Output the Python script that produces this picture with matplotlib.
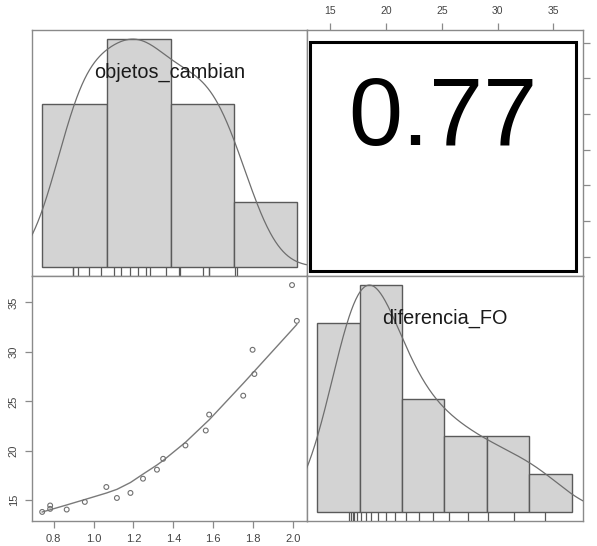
import numpy as np
import matplotlib
matplotlib.use("Agg")
import matplotlib.pyplot as plt
from matplotlib.patches import Rectangle

plt.rcParams['font.family'] = ['Liberation Sans', 'DejaVu Sans']

# ---------------- data ----------------
var_names = ["objetos_cambian", "diferencia_FO"]
corr_value = 0.77

# scatter (objetos_cambian vs diferencia_FO)
obj_x = [0.742, 0.782, 0.782, 0.865, 0.956, 1.064, 1.117, 1.185, 1.248, 1.318,
         1.349, 1.461, 1.563, 1.580, 1.751, 1.798, 1.807, 1.996, 2.020]
dif_y = [13.82, 14.13, 14.47, 14.06, 14.83, 16.34, 15.23, 15.74, 17.18, 18.09,
         19.19, 20.54, 22.05, 23.66, 25.57, 30.21, 27.76, 36.75, 33.13]

# diagonal histogram 1 (objetos_cambian)
hist1_edges = [0.743, 1.065, 1.387, 1.704, 2.021]
hist1_counts = [5, 7, 5, 2]
rug1 = [0.896, 0.896, 0.921, 0.976, 1.035, 1.102, 1.136, 1.181, 1.223, 1.265,
        1.285, 1.361, 1.428, 1.433, 1.547, 1.580, 1.580, 1.710, 1.721]

# diagonal histogram 2 (diferencia_FO)
hist2_edges = [13.80, 17.64, 21.42, 25.24, 29.05, 32.86, 36.68]
hist2_counts = [5, 6, 3, 2, 2, 1]
rug2 = [16.71, 16.86, 17.01, 17.16, 17.37, 17.76, 18.22, 18.67, 19.26, 20.02,
        20.83, 21.82, 22.93, 24.22, 25.66, 27.31, 29.17, 31.49, 34.22]

x_ticks = [0.8, 1.0, 1.2, 1.4, 1.6, 1.8, 2.0]
y_ticks = [15, 20, 25, 30, 35]


# ---------------- helpers ----------------
def usr(v):
    v = np.asarray(v, float)
    lo, hi = v.min(), v.max()
    r = hi - lo
    return lo - 0.04 * r, hi + 0.04 * r


def bw_nrd0(x):
    x = np.asarray(x, float)
    hi = np.std(x, ddof=1)
    q75, q25 = np.percentile(x, [75, 25])
    lo = min(hi, (q75 - q25) / 1.34)
    return 0.9 * lo * len(x) ** -0.2


def density(x, n=512):
    x = np.asarray(x, float)
    bw = bw_nrd0(x)
    g = np.linspace(x.min() - 3 * bw, x.max() + 3 * bw, n)
    d = np.exp(-0.5 * ((g[:, None] - x[None, :]) / bw) ** 2).sum(axis=1)
    return g, d / d.max()


def lowess(x, y, f=2 / 3, iters=3):
    x = np.asarray(x, float)
    y = np.asarray(y, float)
    o = np.argsort(x, kind='stable')
    x, y = x[o], y[o]
    n = len(x)
    ns = max(2, min(n, int(f * n + 1e-7)))
    rw = np.ones(n)
    ys = np.zeros(n)
    rng = x[-1] - x[0]
    for it in range(iters + 1):
        nleft, nright = 0, ns - 1
        for i in range(n):
            xs = x[i]
            while nright < n - 1 and xs - x[nleft] > x[nright + 1] - xs:
                nleft += 1
                nright += 1
            h = max(xs - x[nleft], x[nright] - xs)
            h9, h1 = 0.999 * h, 0.001 * h
            w = np.zeros(n)
            for j in range(nleft, n):
                rj = abs(x[j] - xs)
                if rj <= h9:
                    w[j] = (1.0 if rj <= h1 else (1 - (rj / h) ** 3) ** 3) * rw[j]
                elif x[j] > xs:
                    break
            sw = w.sum()
            if sw <= 0:
                ys[i] = y[i]
                continue
            w = w / sw
            if h > 0:
                a = np.sum(w * x)
                b = xs - a
                c = np.sum(w * (x - a) ** 2)
                if np.sqrt(c) > 0.001 * rng:
                    b /= c
                    w = w * (b * (x - a) + 1)
            ys[i] = np.sum(w * y)
        if it == iters:
            break
        res = np.abs(y - ys)
        cmad = 6 * np.median(res)
        if cmad < 1e-7 * np.mean(np.abs(y)):
            break
        rw = np.where(res <= 0.001 * cmad, 1.0,
                      np.where(res <= 0.999 * cmad, (1 - (res / cmad) ** 2) ** 2, 0.0))
    return x, ys


# ---------------- layout ----------------
W, H = 597, 546
fig = plt.figure(figsize=(W / 100, H / 100), dpi=100)


def box(x0, y0, x1, y1):
    return [x0 / W, 1 - y1 / H, (x1 - x0) / W, (y1 - y0) / H]


ax_tl = fig.add_axes(box(32, 30, 307, 276))
ax_tr = fig.add_axes(box(307, 30, 583, 276))
ax_bl = fig.add_axes(box(32, 276, 307, 521))
ax_br = fig.add_axes(box(307, 276, 583, 521))

frame_col = '#8a8a8a'
bar_fill = '#d3d3d3'
bar_edge = '#5a5a5a'
curve_col = '#6e6e6e'
tick_col = '#444444'

for ax in (ax_tl, ax_tr, ax_bl, ax_br):
    for s in ax.spines.values():
        s.set_color(frame_col)
        s.set_linewidth(1.0)
    ax.set_facecolor('white')

xlim1 = usr(obj_x)
ylim2 = usr(dif_y)


def diag(ax, edges, counts, rug, xlim, label):
    top = max(counts)
    ylim = (-0.04 * top, top * 1.04)
    ax.bar(edges[:-1], counts, width=np.diff(edges), align='edge',
           color=bar_fill, edgecolor=bar_edge, linewidth=1.0, zorder=2)
    g, d = density(rug)
    ax.plot(g, d * top, color=curve_col, lw=0.9, zorder=3)
    ax.vlines(rug, ylim[0], 0, color=bar_edge, lw=0.9, zorder=3)
    ax.set_xlim(*xlim)
    ax.set_ylim(*ylim)
    ax.set_xticks([])
    ax.set_yticks([])
    ax.text(0.5, 0.807, label, transform=ax.transAxes, ha='center', va='baseline',
            fontsize=14.3, color='#1a1a1a', zorder=4)


diag(ax_tl, hist1_edges, hist1_counts, rug1, xlim1, var_names[0])
diag(ax_br, hist2_edges, hist2_counts, rug2, ylim2, var_names[1])

# scatter panel
ax_bl.scatter(obj_x, dif_y, s=12, facecolors='none', edgecolors='#707070',
              linewidths=0.8, zorder=3)
lx, ly = lowess(obj_x, dif_y)
ax_bl.plot(lx, ly, color='#7a7a7a', lw=1.0, zorder=2)
ax_bl.set_xlim(*xlim1)
ax_bl.set_ylim(*ylim2)
ax_bl.set_xticks(x_ticks)
ax_bl.set_xticklabels([f"{v:.1f}" for v in x_ticks])
ax_bl.set_yticks(y_ticks)
ax_bl.set_yticklabels([str(v) for v in y_ticks])
ax_bl.tick_params(axis='both', length=5, width=0.9, color=frame_col,
                  labelsize=8, labelcolor=tick_col, pad=4.5)
ax_bl.tick_params(axis='y', labelrotation=90)
for lab in ax_bl.get_yticklabels():
    lab.set_va('center')

# correlation panel
ax_tr.set_xlim(*ylim2)
ax_tr.set_ylim(*xlim1)
ax_tr.xaxis.tick_top()
ax_tr.yaxis.tick_right()
ax_tr.set_xticks(y_ticks)
ax_tr.set_xticklabels([str(v) for v in y_ticks])
ax_tr.set_yticks(x_ticks)
ax_tr.set_yticklabels([f"{v:.1f}" for v in x_ticks])
ax_tr.tick_params(axis='x', length=5, width=0.9, color=frame_col,
                  labelsize=7.5, labelcolor=tick_col, pad=5)
ax_tr.tick_params(axis='y', length=5, width=0.9, color=frame_col,
                  labelsize=8, labelcolor=tick_col, pad=6, labelrotation=90)
for lab in ax_tr.get_yticklabels():
    lab.set_va('center')
ax_tr.add_patch(Rectangle((0.011, 0.02), 0.964, 0.931, transform=ax_tr.transAxes,
                          fill=False, edgecolor='black', linewidth=2.2, zorder=5))
ax_tr.text(0.493, 0.5325, f"{corr_value:.2f}", transform=ax_tr.transAxes,
           ha='center', va='baseline', fontsize=70, color='black')

fig.savefig("out.png", dpi=100)
